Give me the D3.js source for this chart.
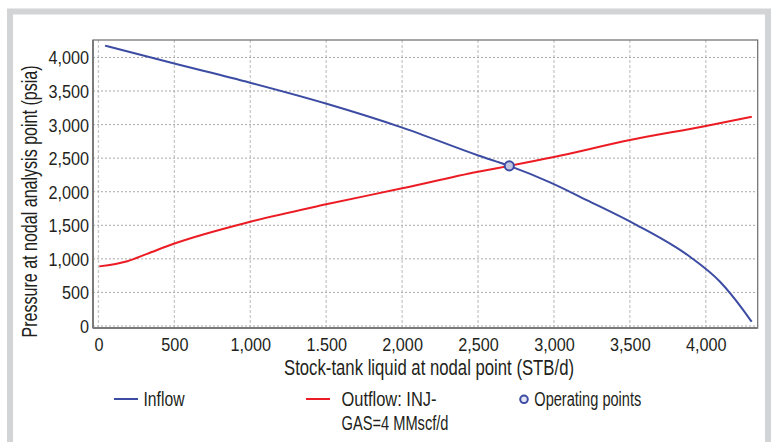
<!DOCTYPE html>
<html>
<head>
<meta charset="utf-8">
<script src="https://cdn.jsdelivr.net/npm/d3@7"></script>
<style>
  html, body { margin: 0; padding: 0; background: #fff; }
  svg { display: block; }
  text { font-family: "Liberation Sans", Arial, sans-serif; fill: #231f20; }
</style>
</head>
<body>
<svg id="chart" width="772" height="442"></svg>
<script>
// Inflow performance (IPR) curve: liquid rate (STB/d) vs pressure (psia)
const inflowRate     = [43, 493, 998, 1503, 2001, 2502, 2706, 2974, 3216, 3545, 3896, 4094, 4247, 4302];
const inflowPressure = [4176, 3913, 3624, 3310, 2955, 2540, 2385, 2140, 1876, 1504, 1031, 659, 237, 63];

// Outflow (tubing) curve at 4 MMscf/d injection gas
const outflowRate     = [5, 190, 320, 500, 1000, 1500, 2000, 2500, 2706, 3000, 3500, 4000, 4303];
const outflowPressure = [888, 965, 1075, 1228, 1553, 1812, 2051, 2298, 2385, 2516, 2770, 2979, 3118];

// Intersection of the two curves
const operatingRate = [2706];
const operatingPressure = [2385];

const xTickValues = [0, 500, 1000, 1500, 2000, 2500, 3000, 3500, 4000];
const xTickLabels = ["0", "500", "1,000", "1.500", "2,000", "2,500", "3,000", "3,500", "4,000"];
const yTickValues = [0, 500, 1000, 1500, 2000, 2500, 3000, 3500, 4000];
const yTickLabels = ["0", "500", "1,000", "1,500", "2,000", "2,500", "3,000", "3,500", "4,000"];

const seriesNames = ["Inflow", "Outflow: INJ-", "GAS=4 MMscf/d", "Operating points"];

const BLUE = "#3d4ca3";
const RED = "#ec1c24";

const svg = d3.select("#chart");

// light grey frame around the figure
svg.append("rect")
  .attr("x", 10).attr("y", 11.5)
  .attr("width", 758).attr("height", 470)
  .attr("fill", "#fff")
  .attr("stroke", "#d3d4d6")
  .attr("stroke-width", 6);

const plot = { left: 93, right: 757.7, top: 40, bottom: 328 };

const x = d3.scaleLinear().domain([-36, 4342]).range([plot.left, plot.right]);
const y = d3.scaleLinear().domain([-30, 4260]).range([plot.bottom, plot.top]);

// squeeze text horizontally to imitate a condensed face
function condense(sel, k) {
  sel.each(function () {
    const w = this.getComputedTextLength();
    d3.select(this).attr("textLength", w * k).attr("lengthAdjust", "spacingAndGlyphs");
  });
}
function fitWidth(sel, w) {
  sel.attr("textLength", w).attr("lengthAdjust", "spacingAndGlyphs");
}

// grid
const grid = svg.append("g");
grid.selectAll("line.v").data(xTickValues).join("line")
  .attr("class", "v")
  .attr("x1", d => x(d)).attr("x2", d => x(d))
  .attr("y1", plot.top).attr("y2", plot.bottom)
  .attr("stroke", "#c9c9c9").attr("stroke-width", 1.3)
  .attr("stroke-dasharray", "3,2");
grid.selectAll("line.h").data(yTickValues).join("line")
  .attr("class", "h")
  .attr("x1", plot.left).attr("x2", plot.right)
  .attr("y1", d => y(d)).attr("y2", d => y(d))
  .attr("stroke", "#a9a9a9").attr("stroke-width", 1)
  .attr("stroke-dasharray", "2,2");

// plot border
svg.append("rect")
  .attr("x", plot.left).attr("y", plot.top)
  .attr("width", plot.right - plot.left).attr("height", plot.bottom - plot.top)
  .attr("fill", "none").attr("stroke", "#6b6b6b").attr("stroke-width", 1.2);
svg.append("line")
  .attr("x1", plot.left).attr("x2", plot.left)
  .attr("y1", plot.top).attr("y2", plot.bottom)
  .attr("stroke", "#7a7a7a").attr("stroke-width", 2);
svg.append("line")
  .attr("x1", plot.left).attr("x2", plot.right)
  .attr("y1", plot.bottom).attr("y2", plot.bottom)
  .attr("stroke", "#7a7a7a").attr("stroke-width", 2);

// axes (labels only)
const xAxis = d3.axisBottom(x).tickValues(xTickValues)
  .tickFormat((d, i) => xTickLabels[i]).tickSize(0).tickPadding(0);
const gx = svg.append("g").attr("transform", `translate(0,${plot.bottom})`).call(xAxis);
gx.select(".domain").remove();
gx.selectAll("text")
  .attr("y", 23).attr("dy", null)
  .style("font-size", "18px").style("font-family", "'Liberation Sans', Arial, sans-serif")
  .attr("fill", "#231f20");
condense(gx.selectAll("text"), 0.9);

const yAxis = d3.axisLeft(y).tickValues(yTickValues)
  .tickFormat((d, i) => yTickLabels[i]).tickSize(0).tickPadding(0);
const gy = svg.append("g").attr("transform", `translate(${plot.left - 4},0)`).call(yAxis);
gy.select(".domain").remove();
gy.selectAll("text")
  .attr("dy", "0.36em")
  .style("font-size", "18px").style("font-family", "'Liberation Sans', Arial, sans-serif")
  .attr("fill", "#231f20");
condense(gy.selectAll("text"), 0.9);

// axis titles
svg.append("text")
  .attr("x", 429).attr("y", 375)
  .attr("text-anchor", "middle")
  .style("font-size", "22px")
  .text("Stock-tank liquid at nodal point (STB/d)")
  .call(fitWidth, 290);

svg.append("text")
  .attr("transform", "translate(37,201.5) rotate(-90) scale(0.73,1)")
  .attr("text-anchor", "middle")
  .style("font-size", "22px")
  .text("Pressure at nodal analysis point (psia)");

// curves
const line = d3.line().curve(d3.curveMonotoneX).x(d => x(d[0])).y(d => y(d[1]));

const inflow = inflowRate.map((r, i) => [r, inflowPressure[i]]);
const outflow = outflowRate.map((r, i) => [r, outflowPressure[i]]);

svg.append("path").datum(inflow)
  .attr("d", line).attr("fill", "none")
  .attr("stroke", BLUE).attr("stroke-width", 2);
svg.append("path").datum(outflow)
  .attr("d", line).attr("fill", "none")
  .attr("stroke", RED).attr("stroke-width", 2);

svg.selectAll("circle.op").data(operatingRate.map((r, i) => [r, operatingPressure[i]])).join("circle")
  .attr("class", "op")
  .attr("cx", d => x(d[0])).attr("cy", d => y(d[1]))
  .attr("r", 4.6)
  .attr("fill", "#c3c6e3")
  .attr("stroke", BLUE).attr("stroke-width", 2);

// legend
const legend = svg.append("g");
legend.append("line")
  .attr("x1", 114).attr("x2", 138).attr("y1", 399).attr("y2", 399)
  .attr("stroke", BLUE).attr("stroke-width", 2);
legend.append("text")
  .attr("x", 143.5).attr("y", 406)
  .style("font-size", "19.5px")
  .text(seriesNames[0]).call(fitWidth, 41);

legend.append("line")
  .attr("x1", 306).attr("x2", 330).attr("y1", 399).attr("y2", 399)
  .attr("stroke", RED).attr("stroke-width", 2);
legend.append("text")
  .attr("x", 341.5).attr("y", 406)
  .style("font-size", "19.5px")
  .text(seriesNames[1]).call(fitWidth, 95);
legend.append("text")
  .attr("x", 341.5).attr("y", 430)
  .style("font-size", "19.5px")
  .text(seriesNames[2]).call(fitWidth, 107);

legend.append("circle")
  .attr("cx", 524).attr("cy", 399.3).attr("r", 3.8)
  .attr("fill", "#e4e6f3")
  .attr("stroke", BLUE).attr("stroke-width", 2);
legend.append("text")
  .attr("x", 534.3).attr("y", 406)
  .style("font-size", "19.5px")
  .text(seriesNames[3]).call(fitWidth, 107);
</script>
</body>
</html>
